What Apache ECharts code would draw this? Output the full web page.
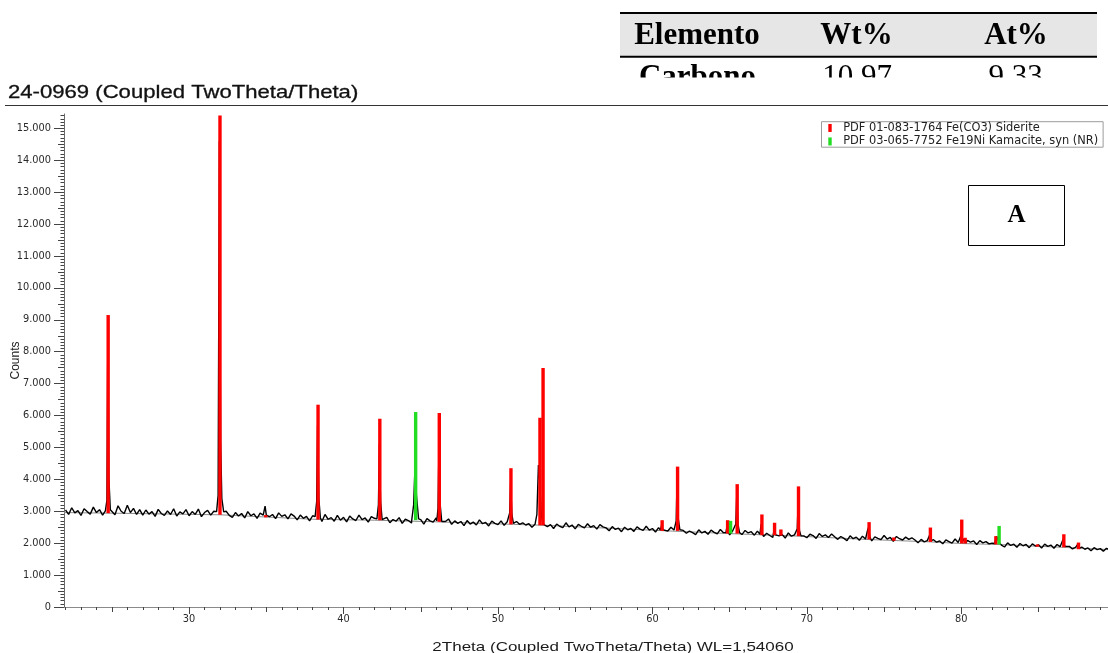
<!DOCTYPE html>
<html>
<head>
<meta charset="utf-8">
<title>24-0969 (Coupled TwoTheta/Theta)</title>
<script src="https://cdn.jsdelivr.net/npm/echarts@6/dist/echarts.min.js"></script>
<style>
  html, body { margin: 0; padding: 0; background: #fff; }
  #chart { width: 1108px; height: 653px; }
</style>
</head>
<body>
<div id="chart"></div>
<script>
// scan: counts every 0.2 deg from 22.0 to 89.6 (noise included)
var scanStart = 22.0;
var scanStep = 0.2;
var scanCounts = [
  3040, 2900, 3110, 2950, 3020, 2870, 3080, 2990, 2910, 3130, 2960, 3050, 2880, 3150, 2970, 3060, 2890, 3170, 3000, 2930, 3190, 2960, 3090, 2900, 3050,
  2880, 3040, 2910, 2990, 2840, 3060, 2930, 2870, 3010, 2900, 3080, 2850, 2980, 2920, 3050, 2860, 2990, 2900, 3070, 2830, 2960, 3030, 2880, 3000, 2940,
  2950, 2820, 3000, 2870, 2810, 2960, 2850, 2930, 2790, 2990, 2860, 2920, 2780, 2940, 2880, 3060, 2830, 2900, 2770, 2950, 2840, 2890, 2760, 2920, 2850,
  2730, 2880, 2780, 2840, 2700, 2860, 2760, 2820, 2680, 2900, 2750, 2800, 2690, 2870, 2720, 2810, 2670, 2850, 2760, 2710, 2880, 2740, 2790, 2660, 2830,
  2780, 2650, 2760, 2700, 2810, 2640, 2740, 2690, 2800, 2620, 2750, 2710, 2630, 2790, 2680, 2740, 2600, 2770, 2700, 2660, 2790, 2620, 2730, 2680, 2760,
  2590, 2700, 2620, 2680, 2550, 2710, 2600, 2660, 2570, 2730, 2610, 2650, 2540, 2690, 2620, 2580, 2700, 2560, 2670, 2610, 2530, 2680, 2590, 2640, 2570,
  2610, 2500, 2590, 2540, 2470, 2620, 2520, 2580, 2460, 2600, 2530, 2490, 2640, 2510, 2570, 2450, 2590, 2530, 2480, 2610, 2500, 2550, 2440, 2580, 2510,
  2480, 2390, 2520, 2430, 2470, 2360, 2500, 2420, 2460, 2370, 2510, 2440, 2400, 2530, 2410, 2460, 2350, 2490, 2420, 2470, 2380, 2500, 2410, 2450, 2360,
  2400, 2310, 2380, 2330, 2270, 2420, 2320, 2370, 2280, 2410, 2340, 2290, 2430, 2330, 2360, 2260, 2390, 2310, 2350, 2270, 2400, 2320, 2360, 2250, 2380,
  2290, 2210, 2310, 2240, 2180, 2300, 2230, 2270, 2160, 2320, 2220, 2260, 2190, 2330, 2230, 2170, 2280, 2240, 2150, 2300, 2210, 2260, 2180, 2290, 2200,
  2120, 2210, 2150, 2080, 2230, 2140, 2190, 2090, 2220, 2130, 2170, 2070, 2200, 2150, 2110, 2240, 2130, 2180, 2060, 2210, 2140, 2100, 2190, 2120, 2170,
  2100, 2010, 2120, 2040, 2080, 1990, 2110, 2030, 2070, 1980, 2100, 2050, 2000, 2130, 2020, 2060, 1970, 2090, 2030, 2070, 1960, 2080, 2010, 2050, 1980,
  2000, 1920, 1990, 1940, 1880, 2010, 1930, 1970, 1870, 1990, 1920, 1960, 1860, 1980, 1910, 1950, 1850, 1970, 1900, 1940, 1840, 1960, 1890, 1930, 1870,
  1900, 1820, 1870, 1790, 1880, 1810, 1850, 1760, 1860, 1800, 1830, 1750, 1840, 1790
];

// peaks of the scan, [2theta, counts] points
var scanPeaks = [
  [[24.58, 3010], [24.68, 3350], [24.74, 8700], [24.80, 4100], [24.90, 3050]],
  [[31.78, 2990], [31.88, 3500], [31.96, 14600], [32.04, 5200], [32.12, 3400], [32.24, 2980]],
  [[34.84, 2870], [34.92, 3160], [35.00, 2880]],
  [[38.16, 2830], [38.26, 3300], [38.32, 5700], [38.40, 3400], [38.50, 2800]],
  [[42.16, 2760], [42.26, 3200], [42.32, 5100], [42.40, 3300], [42.50, 2740]],
  [[44.42, 2740], [44.54, 3200], [44.64, 4550], [44.72, 3500], [44.86, 2760]],
  [[46.04, 2700], [46.12, 3100], [46.18, 5100], [46.26, 3200], [46.36, 2680]],
  [[50.66, 2620], [50.76, 2950], [50.82, 3900], [50.90, 2900], [51.00, 2620]],
  [[52.40, 2590], [52.52, 2900], [52.62, 4450], [52.70, 4000], [52.80, 2900], [52.90, 2650], [53.00, 2570]],
  [[60.52, 2410], [60.60, 2580], [60.68, 2420]],
  [[61.44, 2420], [61.54, 2700], [61.60, 4100], [61.68, 2750], [61.78, 2420]],
  [[64.76, 2330], [64.84, 2560], [64.92, 2350]],
  [[65.30, 2340], [65.40, 2600], [65.46, 3500], [65.54, 2600], [65.64, 2330]],
  [[66.96, 2280], [67.04, 2600], [67.12, 2290]],
  [[67.82, 2250], [67.90, 2480], [67.98, 2260]],
  [[69.30, 2240], [69.38, 2450], [69.44, 3400], [69.52, 2400], [69.62, 2230]],
  [[73.84, 2150], [73.94, 2420], [74.00, 2500], [74.08, 2200], [74.18, 2140]],
  [[77.90, 2080], [77.98, 2290], [78.06, 2080]],
  [[79.88, 2030], [79.98, 2240], [80.06, 2300], [80.16, 2080], [80.30, 2010]],
  [[82.16, 1990], [82.28, 2220], [82.36, 2240], [82.46, 2020]],
  [[86.50, 1890], [86.60, 2130], [86.70, 1900]],
  [[87.48, 1850], [87.56, 1980], [87.64, 1840]]
];

// fitted background (grey line under the scan)
var backgroundLine = [
  [21.9, 2960], [25, 2940], [32, 2890], [38, 2750], [42, 2720], [46, 2670], [51, 2590], [53, 2560],
  [61, 2385], [65, 2300], [69.5, 2220], [74, 2115], [78, 2040], [80, 1990], [82.3, 1960], [86.6, 1870], [89.5, 1800]
];

// reference patterns
var sideriteName = 'PDF 01-083-1764 Fe(CO3) Siderite';
var sideriteAngles = [24.76, 32.0, 34.96, 38.35, 42.35, 46.2, 50.84, 52.72, 52.92, 60.63, 61.63, 64.87, 65.49, 67.09, 67.91, 68.32, 69.46, 74.03, 75.63, 78.0, 80.03, 80.25, 82.24, 84.93, 86.64, 87.59];
var sideriteTops = [9150, 15400, 2880, 6340, 5900, 6080, 4350, 5930, 7490, 2720, 4400, 2720, 3850, 2900, 2640, 2430, 3780, 2660, 2180, 2490, 2740, 2170, 2220, 1960, 2280, 2020];
var sideriteBases = [2940, 2890, 2810, 2740, 2720, 2670, 2590, 2560, 2560, 2385, 2385, 2300, 2300, 2250, 2250, 2240, 2220, 2115, 2075, 2040, 1990, 1990, 1960, 1890, 1870, 1810];

var kamaciteName = 'PDF 03-065-7752 Fe19Ni Kamacite, syn (NR)';
var kamaciteAngles = [44.67, 65.06, 82.45];
var kamaciteTops = [6110, 2700, 2540];
var kamaciteBases = [2720, 2300, 1960];

// axis ticks / labels
var countTicks = [0, 1000, 2000, 3000, 4000, 5000, 6000, 7000, 8000, 9000, 10000, 11000, 12000, 13000, 14000, 15000];
var angleTicks = [30, 40, 50, 60, 70, 80];

// table above the chart
var tableHead = ['Elemento', 'Wt%', 'At%'];
var tableRow = ['Carbono', '10,97', '9,33'];

var xMin = 21.9, xMax = 89.5, yMax = 15450;

// build scan line: grid points outside the peak windows + peak points
var scanData = [];
for (var i = 0; i < scanCounts.length; i++) {
  var a = +(scanStart + i * scanStep).toFixed(2);
  var inPeak = scanPeaks.some(function (p) { return a >= p[0][0] && a <= p[p.length - 1][0]; });
  if (!inPeak) scanData.push([a, scanCounts[i]]);
}
scanPeaks.forEach(function (p) { p.forEach(function (pt) { scanData.push(pt); }); });
scanData.sort(function (p, q) { return p[0] - q[0]; });

// tick sets for the different tick lengths
var yMid = [], yMinor = [];
for (var v = 100; v < yMax; v += 100) {
  if (v % 1000 === 0) continue;
  if (v % 500 === 0) yMid.push(v); else yMinor.push(v);
}
var xMid = [], xMinor = [];
for (var t = 22; t <= 89; t++) {
  if (t % 10 === 0) continue;
  if (t % 5 === 0) xMid.push(t); else xMinor.push(t);
}

function stickSeries(name, angles, bases, tops, color) {
  return {
    name: name,
    type: 'custom',
    xAxisIndex: 0,
    yAxisIndex: 0,
    z: 5,
    itemStyle: { color: color },
    encode: { x: 0, y: [1, 2] },
    data: angles.map(function (a, i) { return [a, bases[i], tops[i]]; }),
    renderItem: function (params, api) {
      var lo = api.coord([api.value(0), api.value(1)]);
      var hi = api.coord([api.value(0), api.value(2)]);
      return {
        type: 'rect',
        shape: { x: lo[0] - 1.7, y: hi[1], width: 3.4, height: lo[1] - hi[1] },
        style: { fill: color }
      };
    }
  };
}

function xAxisOf(ticks, len, withLabels) {
  return {
    type: 'value', min: xMin, max: xMax, position: 'bottom',
    axisLine: { show: withLabels, lineStyle: { color: '#8a8a8a', width: 1 } },
    axisTick: { show: true, length: len, customValues: ticks, lineStyle: { color: '#444' } },
    axisLabel: withLabels ? {
      customValues: angleTicks, margin: 7, color: '#2a2a2a',
      fontFamily: 'DejaVu Sans', fontSize: 9.8
    } : { show: false },
    splitLine: { show: false }
  };
}

function yAxisOf(ticks, len, withLabels) {
  var ax = {
    type: 'value', min: 0, max: yMax, position: 'left',
    axisLine: { show: withLabels, lineStyle: { color: '#6a6a6a', width: 1 } },
    axisTick: { show: true, length: len, customValues: ticks, lineStyle: { color: '#444' } },
    axisLabel: { show: false },
    splitLine: { show: false }
  };
  if (withLabels) {
    ax.axisLabel = {
      customValues: countTicks, margin: 13, color: '#2a2a2a',
      fontFamily: 'DejaVu Sans', fontSize: 9.8,
      formatter: function (val) { return val === 0 ? '0' : (val / 1000) + '.000'; }
    };
    ax.name = 'Counts';
    ax.nameLocation = 'middle';
    ax.nameRotate = 90;
    ax.nameGap = 42;
    ax.nameMoveOverlap = false;
    ax.nameTextStyle = { fontFamily: 'Liberation Sans', fontSize: 12, color: '#222' };
  }
  return ax;
}

var chart = echarts.init(document.getElementById('chart'));
chart.setOption({
  animation: false,
  backgroundColor: '#fff',
  grid: { left: 64, right: 0, top: 114, bottom: 46, outerBoundsMode: 'none', containLabel: false },
  legend: {
    data: [sideriteName, kamaciteName],
    orient: 'vertical',
    left: 821.5, top: 121.7,
    padding: [0.5, 5, 0, 6.8],
    itemGap: 2,
    itemWidth: 3.4, itemHeight: 8,
    icon: 'rect',
    borderColor: '#9c9c9c', borderWidth: 1,
    backgroundColor: '#fff',
    textStyle: { fontFamily: 'DejaVu Sans', fontSize: 11.4, color: '#222', lineHeight: 11.5, padding: [0, 0, 0, 6.5] }
  },
  xAxis: [xAxisOf(angleTicks, 7, true), xAxisOf(xMid, 5, false), xAxisOf(xMinor, 3, false)],
  yAxis: [yAxisOf(countTicks, 10, true), yAxisOf(yMid, 6, false), yAxisOf(yMinor, 3.5, false)],
  series: [
    {
      name: 'background', type: 'line', data: backgroundLine, showSymbol: false, silent: true,
      lineStyle: { color: '#8c8c8c', width: 1 }, z: 2
    },
    {
      name: 'scan', type: 'line', data: scanData, showSymbol: false, silent: true, sampling: null,
      lineStyle: { color: '#000', width: 1.4 }, z: 3
    },
    stickSeries(sideriteName, sideriteAngles, sideriteBases, sideriteTops, '#ff0000'),
    stickSeries(kamaciteName, kamaciteAngles, kamaciteBases, kamaciteTops, '#22dd22')
  ],
  graphic: [
    // table header (cut off at the top of the picture)
    { type: 'rect', z: 10, shape: { x: 620, y: 14, width: 477, height: 42 }, style: { fill: '#e6e6e6' } },
    { type: 'rect', z: 11, shape: { x: 620, y: 12, width: 477, height: 2 }, style: { fill: '#000' } },
    { type: 'rect', z: 11, shape: { x: 620, y: 55.7, width: 477, height: 2 }, style: { fill: '#000' } },
    { type: 'text', z: 12, x: 697, y: 35.5, style: { text: tableHead[0], fill: '#000', fontFamily: 'Liberation Serif', fontWeight: 'bold', fontSize: 31, align: 'center', verticalAlign: 'middle' } },
    { type: 'text', z: 12, x: 856.5, y: 35.5, style: { text: tableHead[1], fill: '#000', fontFamily: 'Liberation Serif', fontWeight: 'bold', fontSize: 31, align: 'center', verticalAlign: 'middle' } },
    { type: 'text', z: 12, x: 1016, y: 35.5, style: { text: tableHead[2], fill: '#000', fontFamily: 'Liberation Serif', fontWeight: 'bold', fontSize: 31, align: 'center', verticalAlign: 'middle' } },
    { type: 'text', z: 12, x: 697.5, y: 77.5, style: { text: tableRow[0], fill: '#000', fontFamily: 'Liberation Serif', fontWeight: 'bold', fontSize: 31, align: 'center', verticalAlign: 'middle' } },
    { type: 'text', z: 12, x: 857, y: 77.5, style: { text: tableRow[1], fill: '#000', fontFamily: 'Liberation Serif', fontSize: 31, align: 'center', verticalAlign: 'middle' } },
    { type: 'text', z: 12, x: 1015.5, y: 77.5, style: { text: tableRow[2], fill: '#000', fontFamily: 'Liberation Serif', fontSize: 31, align: 'center', verticalAlign: 'middle' } },
    { type: 'rect', z: 13, shape: { x: 600, y: 77.5, width: 508, height: 26.5 }, style: { fill: '#fff' } },
    // plot title + rule
    { type: 'text', z: 12, x: 8, y: 93.5, scaleX: 1.25, style: { text: '24-0969 (Coupled TwoTheta/Theta)', fill: '#111', fontFamily: 'Liberation Sans', fontSize: 17.7, align: 'left', verticalAlign: 'middle', stroke: '#111', lineWidth: 0.3 } },
    { type: 'line', z: 12, shape: { x1: 5, y1: 105.5, x2: 1108, y2: 105.5 }, style: { stroke: '#333', lineWidth: 1.2 } },
    // x axis title
    { type: 'text', z: 12, x: 613, y: 647, scaleX: 1.25, style: { text: '2Theta (Coupled TwoTheta/Theta) WL=1,54060', fill: '#1a1a1a', fontFamily: 'Liberation Sans', fontSize: 13.6, align: 'center', verticalAlign: 'middle' } },
    // panel letter
    { type: 'rect', z: 12, shape: { x: 968.5, y: 185.5, width: 96, height: 60 }, style: { fill: '#fff', stroke: '#000', lineWidth: 1 } },
    { type: 'text', z: 13, x: 1016.5, y: 215.5, style: { text: 'A', fill: '#000', fontFamily: 'Liberation Serif', fontWeight: 'bold', fontSize: 25, align: 'center', verticalAlign: 'middle' } }
  ]
});
</script>
</body>
</html>
